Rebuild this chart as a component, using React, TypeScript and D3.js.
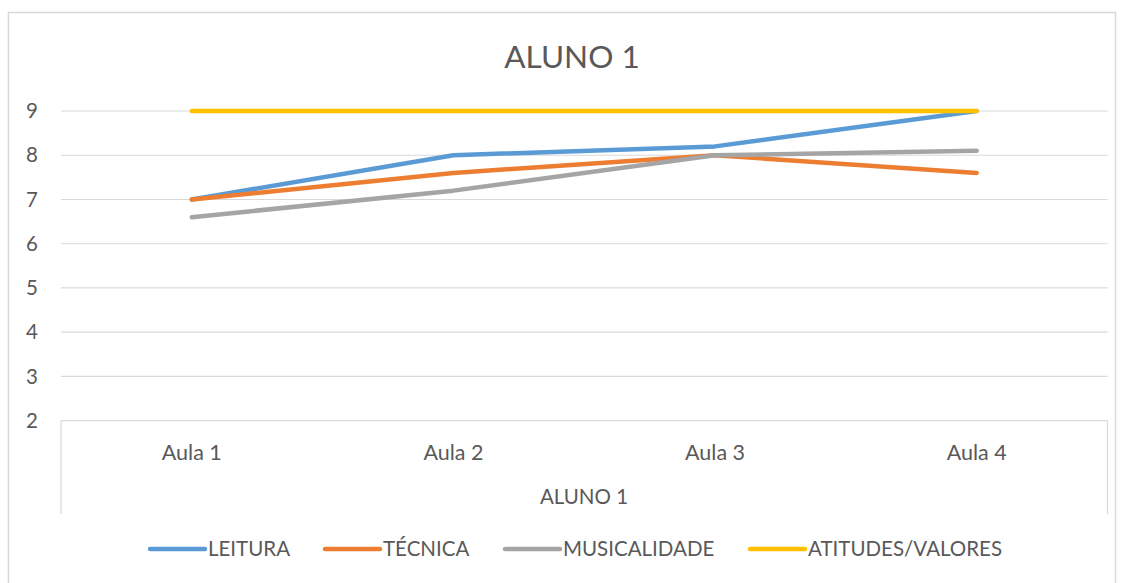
import React from "react";
import * as d3 from "d3";

const categories = ["Aula 1", "Aula 2", "Aula 3", "Aula 4"];
const seriesNames = ["LEITURA", "TÉCNICA", "MUSICALIDADE", "ATITUDES/VALORES"];
const leitura = [7, 8, 8.2, 9];
const tecnica = [7, 7.6, 8, 7.6];
const musicalidade = [6.6, 7.2, 8, 8.1];
const atitudes = [9, 9, 9, 9];
const yTicks = [2, 3, 4, 5, 6, 7, 8, 9];
const colors = ["#5B9BD5", "#ED7D31", "#A5A5A5", "#FFC000"];
const chartTitle = "ALUNO 1";
const axisTitle = "ALUNO 1";

const W = 1124;
const H = 583;
const FONT = "Lato, 'Open Sans', sans-serif";
const TXT = "#595959";
const GRID = "#D9D9D9";
const FS = 20.5;

export default function App() {
  const data = [leitura, tecnica, musicalidade, atitudes];
  const x = d3.scaleBand<string>().domain(categories).range([61, 1107.5]);
  const y = d3.scaleLinear().domain([2, 9]).range([420.7, 111]);
  const cx = (c: string) => (x(c) as number) + x.bandwidth() / 2;
  const line = d3
    .line<number>()
    .x((_, i) => cx(categories[i]))
    .y((d) => y(d));
  const legendX = [150, 325, 505, 750];

  return (
    <svg
      width={W}
      height={H}
      style={{ position: "absolute", left: 0, top: 0, display: "block", background: "#fff" }}
      fontFamily={FONT}
    >
      <rect x={8.5} y={12.5} width={1107} height={H} fill="#fff" stroke={GRID} strokeWidth={1.5} />
      <text x={572} y={68} textAnchor="middle" fontSize={31.5} fill={TXT}>
        {chartTitle}
      </text>
      {yTicks.map((t) => (
        <g key={t}>
          <line x1={61} x2={1107.5} y1={y(t)} y2={y(t)} stroke={GRID} strokeWidth={1.2} />
          <text x={38} y={y(t)} dy="0.35em" textAnchor="end" fontSize={FS} fill={TXT}>
            {t}
          </text>
        </g>
      ))}
      <line x1={61} x2={61} y1={y(2)} y2={514} stroke={GRID} strokeWidth={1.2} />
      <line x1={1107.5} x2={1107.5} y1={y(2)} y2={514} stroke={GRID} strokeWidth={1.2} />
      {categories.map((c) => (
        <text key={c} x={cx(c)} y={452} dy="0.35em" textAnchor="middle" fontSize={21.5} fill={TXT}>
          {c}
        </text>
      ))}
      <text x={584} y={497} dy="0.35em" textAnchor="middle" fontSize={FS} fill={TXT}>
        {axisTitle}
      </text>
      {data.map((s, i) => (
        <path
          key={seriesNames[i]}
          d={line(s) || ""}
          fill="none"
          stroke={colors[i]}
          strokeWidth={4.5}
          strokeLinecap="round"
          strokeLinejoin="round"
        />
      ))}
      {seriesNames.map((n, i) => (
        <g key={n}>
          <line
            x1={legendX[i]}
            x2={legendX[i] + 55}
            y1={549}
            y2={549}
            stroke={colors[i]}
            strokeWidth={4.5}
            strokeLinecap="round"
          />
          <text x={legendX[i] + 58} y={549} dy="0.35em" fontSize={FS} fill={TXT}>
            {n}
          </text>
        </g>
      ))}
    </svg>
  );
}
